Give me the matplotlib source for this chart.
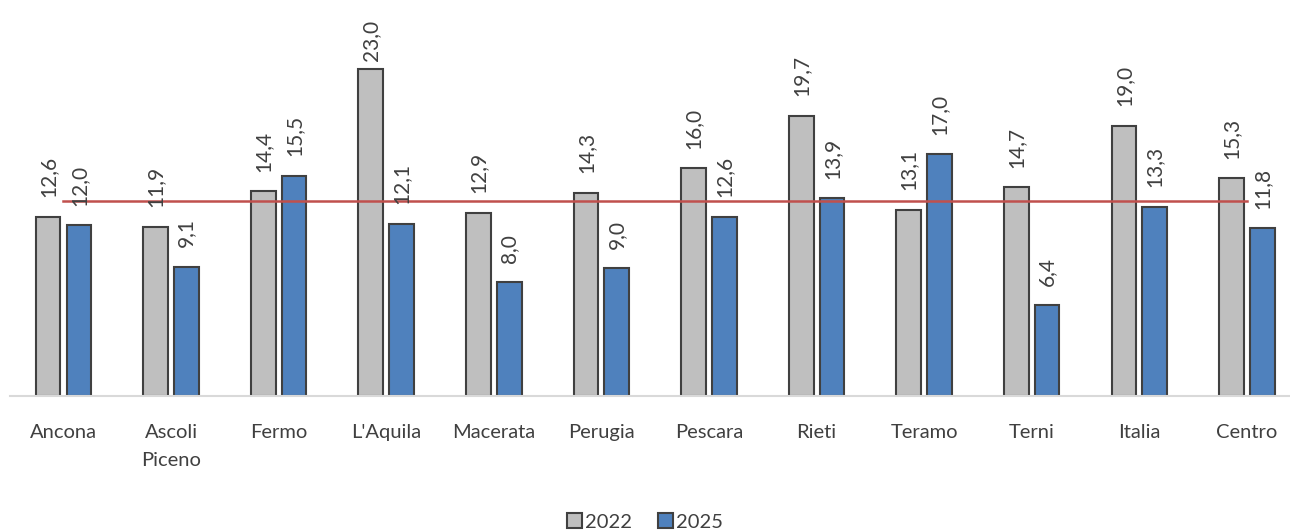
import numpy as np
import matplotlib.pyplot as plt
from matplotlib.patches import Patch

# data
categories = ["Ancona", "Ascoli\nPiceno", "Fermo", "L'Aquila", "Macerata", "Perugia",
              "Pescara", "Rieti", "Teramo", "Terni", "Italia", "Centro"]
v2022 = [12.6, 11.9, 14.4, 23.0, 12.9, 14.3, 16.0, 19.7, 13.1, 14.7, 19.0, 15.3]
v2025 = [12.0, 9.1, 15.5, 12.1, 8.0, 9.0, 12.6, 13.9, 17.0, 6.4, 13.3, 11.8]
ref_line = 13.7

plt.rcParams['font.family'] = ['Lato', 'DejaVu Sans']
txt_col = '#404040'
fs = 14.5

fig = plt.figure(figsize=(12.9, 5.32), dpi=100)
ax = fig.add_axes([9.7 / 1290, 136 / 532, 1291 / 1290, 355.5 / 532])

x = np.arange(len(categories))
w = 0.23
off = 0.143
b1 = ax.bar(x - off, v2022, w, color='#BFBFBF', edgecolor='#404040', linewidth=1.5, label='2022')
b2 = ax.bar(x + off, v2025, w, color='#4F81BD', edgecolor='#404040', linewidth=1.5, label='2025')

# red reference line from first to last category
ax.plot([x[0], x[-1]], [ref_line, ref_line], color='#C0504D', linewidth=1.8, zorder=3)

# value labels, rotated
for bars, vals in ((b1, v2022), (b2, v2025)):
    for r, v in zip(bars, vals):
        pad = 14 if v < 21 else 6
        ax.annotate(f"{v:.1f}".replace('.', ','), (r.get_x() + r.get_width() / 2, v),
                    xytext=(0, pad), textcoords='offset points', rotation=90,
                    ha='center', va='bottom', fontsize=fs + 0.5, color=txt_col, zorder=4)

ax.set_xlim(-0.5, 11.5)
ax.set_ylim(0, 25)
ax.set_xticks(x)
ax.set_xticklabels(categories, fontsize=fs, color=txt_col, linespacing=1.8, va='top')
ax.tick_params(axis='x', length=0, pad=20)
ax.set_yticks([])
for s in ('top', 'right', 'left'):
    ax.spines[s].set_visible(False)
ax.spines['bottom'].set_color('#D9D9D9')
ax.spines['bottom'].set_linewidth(1.5)

handles = [Patch(facecolor='#BFBFBF', edgecolor='#404040', linewidth=1.5, label='2022'),
           Patch(facecolor='#4F81BD', edgecolor='#404040', linewidth=1.5, label='2025')]
leg = fig.legend(handles=handles, loc='center', bbox_to_anchor=(0.5, 10 / 532), ncol=2,
                 frameon=False, fontsize=fs, handlelength=0.75, handleheight=0.75,
                 handletextpad=0.15, columnspacing=1.3, labelcolor=txt_col)

fig.savefig('out.png', dpi=100)
